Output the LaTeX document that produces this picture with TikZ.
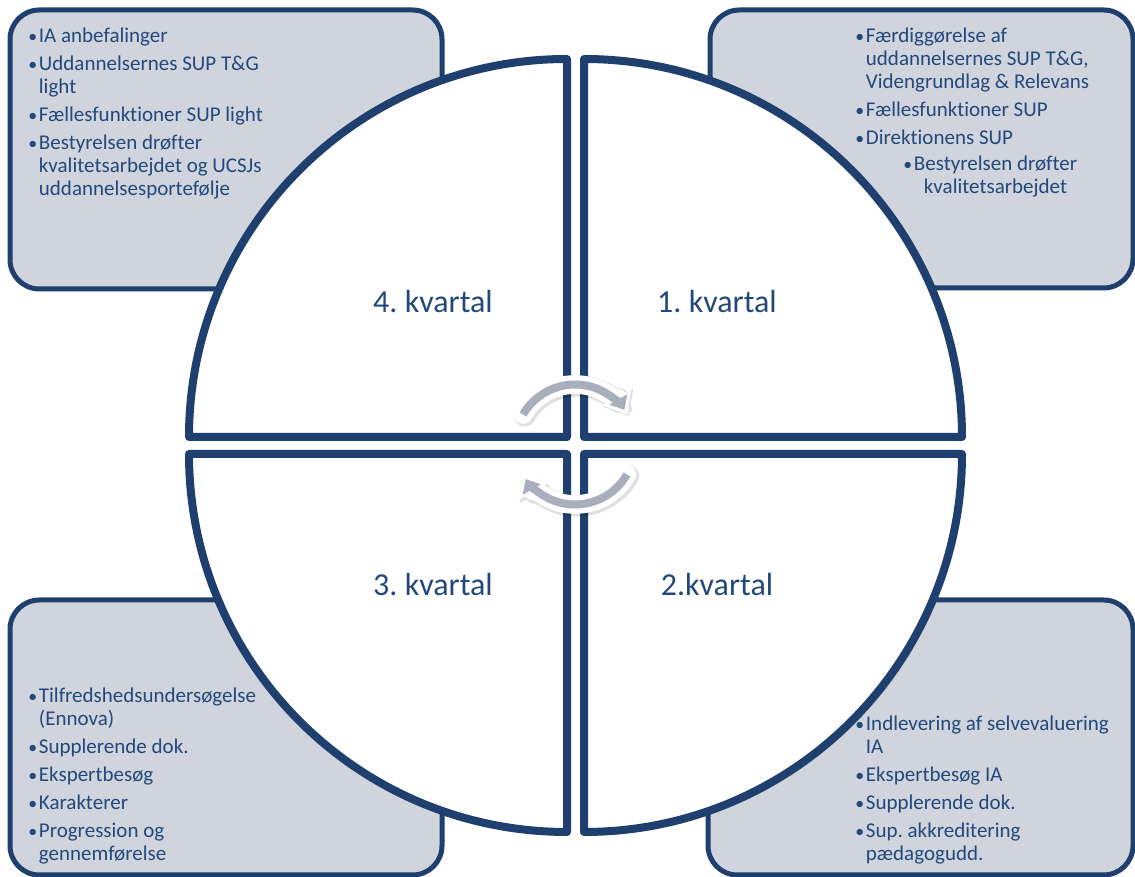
\documentclass[tikz,border=0pt]{standalone}
\usepackage{fontspec}
\setmainfont{Carlito}[Ligatures=NoCommon]
\usepackage{tikz}
\usetikzlibrary{arrows.meta,shadows}
\definecolor{navy}{HTML}{1F3F6E}
\definecolor{ink}{HTML}{23497C}
\definecolor{boxbg}{HTML}{D0D4DD}
\definecolor{cyc}{HTML}{A9AEBD}
\frenchspacing
\newcommand{\bul}{\makebox[8pt][l]{\scalebox{0.85}{\textbullet}}}
\tikzset{
  quarter/.style={draw=navy, fill=white, line width=6pt, line join=round,
    drop shadow={opacity=0.2, shadow xshift=2.5pt, shadow yshift=-2.5pt}},
  panel/.style={draw=navy, fill=boxbg, line width=3.75pt, rounded corners=22pt},
  qlab/.style={text=ink, font=\fontsize{24}{28}\selectfont},
  lst/.style={text=ink, font=\fontsize{15.75}{17.25}\selectfont, inner sep=0pt, anchor=base west},
  halo/.style={draw=black, line width=16pt, line cap=round, -{Triangle[length=16pt,width=26pt]}},
  ring/.style={draw=white, line width=14pt, line cap=round, -{Triangle[length=15pt,width=24pt]}},
  turn/.style={draw=cyc, line width=6pt, shorten >=4pt, -{Triangle[length=9pt,width=15pt]}},
}
\begin{document}
\begin{tikzpicture}[x=0.75pt,y=0.75pt]
  \useasboundingbox (0,0) rectangle (1135,877);

  % panels behind the wheel
  \draw[panel] (10,867) rectangle (442,588);
  \draw[panel] (710,867) rectangle (1133,589);
  \draw[panel] (10,277) rectangle (442,2);
  \draw[panel] (708,277) rectangle (1133,2);

  % the four quarters
  \draw[quarter] (584,440) -- ++(0,378) arc[start angle=90, end angle=0, radius=378] -- cycle;
  \draw[quarter] (567,440) -- ++(0,378) arc[start angle=90, end angle=180, radius=378] -- cycle;
  \draw[quarter] (567,423) -- ++(0,-378) arc[start angle=270, end angle=180, radius=378] -- cycle;
  \draw[quarter] (584,423) -- ++(0,-378) arc[start angle=270, end angle=360, radius=378] -- cycle;

  % cycle arrows
  \coordinate (hub) at (575,432.5);
  \coordinate (hubs) at (576.5,431);
  \begin{scope}[transparency group, opacity=0.12]
    \draw[halo] (hubs) ++(150:60) arc[start angle=150, end angle=30, radius=60];
    \draw[halo] (hubs) ++(-30:60) arc[start angle=-30, end angle=-150, radius=60];
  \end{scope}
  \draw[ring] (hub) ++(150:60) arc[start angle=150, end angle=30, radius=60];
  \draw[turn] (hub) ++(150:60) arc[start angle=150, end angle=30, radius=60];
  \draw[ring] (hub) ++(-30:60) arc[start angle=-30, end angle=-150, radius=60];
  \draw[turn] (hub) ++(-30:60) arc[start angle=-30, end angle=-150, radius=60];

  \node[qlab] (lab1) at (717,575) {1. kvartal};
  \node[qlab] (lab2) at (717,292) {2.kvartal};
  \node[qlab] (lab3) at (433,292) {3. kvartal};
  \node[qlab] (lab4) at (433,575) {4. kvartal};

  % lists
  \node[lst] (list4) at (28,834) {\begin{tabular}[t]{@{}l@{}l@{}}
    \bul & IA anbefalinger\\[3.75pt]
    \bul & Uddannelsernes SUP T\&G\\
         & light\\[3.75pt]
    \bul & Fællesfunktioner SUP light\\[3.75pt]
    \bul & Bestyrelsen drøfter\\
         & kvalitetsarbejdet og UCSJs\\
         & uddannelsesportefølje
  \end{tabular}};
  \node[lst] (list1) at (855,834) {\begin{tabular}[t]{@{}l@{}l@{}}
    \bul & Færdiggørelse af\\
         & uddannelsernes SUP T\&G,\\
         & Videngrundlag \& Relevans\\[3.75pt]
    \bul & Fællesfunktioner SUP\\[3.75pt]
    \bul & Direktionens SUP
  \end{tabular}};
  \node[lst] (sub1) at (903,706) {\begin{tabular}[t]{@{}l@{}l@{}}
    \bul & Bestyrelsen drøfter\\
         & \hspace{7.5pt}kvalitetsarbejdet
  \end{tabular}};
  \node[lst] (list3) at (28,174) {\begin{tabular}[t]{@{}l@{}l@{}}
    \bul & Tilfredshedsundersøgelse\\
         & (Ennova)\\[3.75pt]
    \bul & Supplerende dok.\\[3.75pt]
    \bul & Ekspertbesøg\\[3.75pt]
    \bul & Karakterer\\[3.75pt]
    \bul & Progression og\\
         & gennemførelse
  \end{tabular}};
  \node[lst] (list2) at (855,146) {\begin{tabular}[t]{@{}l@{}l@{}}
    \bul & Indlevering af selvevaluering\\
         & IA\\[3.75pt]
    \bul & Ekspertbesøg IA\\[3.75pt]
    \bul & Supplerende dok.\\[3.75pt]
    \bul & Sup. akkreditering\\
         & pædagogudd.
  \end{tabular}};
\end{tikzpicture}
\end{document}
